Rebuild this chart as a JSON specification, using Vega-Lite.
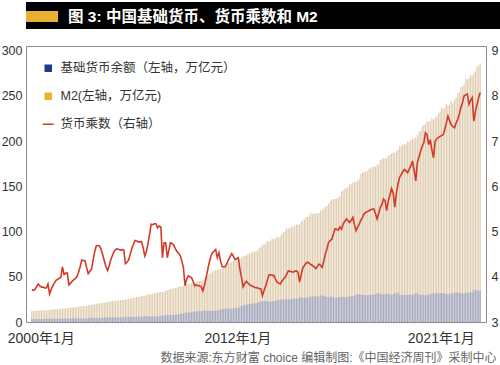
{
  "$schema": "https://vega.github.io/schema/vega-lite/v6.json",
  "padding": {"left": 0, "top": 2, "right": 0, "bottom": 0},
  "spacing": 15,
  "resolve": {"scale": {"color": "independent", "fill": "independent"}, "legend": {"color": "independent", "fill": "independent"}},
  "config": {
    "font": "Liberation Sans, Noto Sans CJK SC, sans-serif",
    "view": {"stroke": null},
    "axis": {"labelFont": "Liberation Sans, Noto Sans CJK SC, sans-serif", "labelColor": "#333333", "ticks": false, "domain": false, "grid": false},
    "legend": {
      "orient": "top-left", "offset": 16, "title": null, "padding": 0, "rowPadding": 15, "labelLimit": 400,
      "labelFont": "Liberation Sans, Noto Sans CJK SC, sans-serif", "labelFontSize": 12.5, "labelColor": "#333333", "labelOffset": 6,
      "symbolSize": 100
    }
  },
  "vconcat": [
    {
      "width": 500,
      "height": 27,
      "view": {"fill": "#000000", "stroke": null},
      "data": {"values": [{"t": "图 3: 中国基础货币、货币乘数和 M2"}]},
      "layer": [
        {"mark": {"type": "rect", "x": 0, "x2": 32, "y": 9, "y2": 20, "color": "#e9b131"}, "encoding": {}},
        {"mark": {"type": "text", "x": 42, "y": 14.5, "align": "left", "baseline": "middle", "fontSize": 15.5, "fontWeight": "bold", "color": "#ffffff", "font": "Liberation Sans, Noto Sans CJK SC, sans-serif"}, "encoding": {"text": {"field": "t"}}}
      ]
    },
    {
      "width": 460,
      "height": 276,
      "view": {"stroke": "#8c8c8c", "strokeWidth": 1},
      "data": {"values": [
{"d":"2000-01","m2":12.2,"b":3.3,"k":3.71},{"d":"2000-02","m2":12.1,"b":3.2,"k":3.70},{"d":"2000-03","m2":12.5,"b":3.3,"k":3.72},{"d":"2000-04","m2":12.6,"b":3.3,"k":3.78},{"d":"2000-05","m2":12.8,"b":3.3,"k":3.84},{"d":"2000-06","m2":12.6,"b":3.3,"k":3.80},{"d":"2000-07","m2":12.7,"b":3.4,"k":3.77},{"d":"2000-08","m2":12.9,"b":3.4,"k":3.77},{"d":"2000-09","m2":13.0,"b":3.5,"k":3.75},{"d":"2000-10","m2":13.0,"b":3.5,"k":3.75},{"d":"2000-11","m2":13.2,"b":3.5,"k":3.84},{"d":"2000-12","m2":13.5,"b":3.65,"k":3.62},
{"d":"2001-01","m2":13.8,"b":3.7,"k":3.72},{"d":"2001-02","m2":13.7,"b":3.6,"k":3.80},{"d":"2001-03","m2":14.1,"b":3.6,"k":3.86},{"d":"2001-04","m2":14.2,"b":3.6,"k":3.92},{"d":"2001-05","m2":14.3,"b":3.6,"k":3.94},{"d":"2001-06","m2":14.7,"b":3.7,"k":3.97},{"d":"2001-07","m2":14.7,"b":3.7,"k":3.98},{"d":"2001-08","m2":14.8,"b":3.5,"k":4.22},{"d":"2001-09","m2":15.0,"b":3.7,"k":4.05},{"d":"2001-10","m2":15.0,"b":3.7,"k":4.08},{"d":"2001-11","m2":15.2,"b":3.7,"k":4.08},{"d":"2001-12","m2":15.8,"b":4.0,"k":3.82},
{"d":"2002-01","m2":15.9,"b":4.1,"k":3.86},{"d":"2002-02","m2":16.0,"b":4.1,"k":3.90},{"d":"2002-03","m2":16.2,"b":4.1,"k":3.93},{"d":"2002-04","m2":16.4,"b":4.1,"k":3.96},{"d":"2002-05","m2":16.5,"b":4.1,"k":4.00},{"d":"2002-06","m2":16.9,"b":4.1,"k":4.10},{"d":"2002-07","m2":17.0,"b":4.0,"k":4.22},{"d":"2002-08","m2":17.3,"b":4.0,"k":4.37},{"d":"2002-09","m2":17.5,"b":4.0,"k":4.36},{"d":"2002-10","m2":17.5,"b":4.0,"k":4.35},{"d":"2002-11","m2":17.8,"b":4.2,"k":4.20},{"d":"2002-12","m2":18.5,"b":4.5,"k":4.07},
{"d":"2003-01","m2":19.0,"b":4.6,"k":4.12},{"d":"2003-02","m2":19.0,"b":4.6,"k":4.17},{"d":"2003-03","m2":19.4,"b":4.5,"k":4.35},{"d":"2003-04","m2":19.6,"b":4.3,"k":4.55},{"d":"2003-05","m2":19.9,"b":4.3,"k":4.68},{"d":"2003-06","m2":20.6,"b":4.4,"k":4.69},{"d":"2003-07","m2":20.6,"b":4.4,"k":4.68},{"d":"2003-08","m2":21.0,"b":4.6,"k":4.60},{"d":"2003-09","m2":21.3,"b":4.8,"k":4.48},{"d":"2003-10","m2":21.3,"b":4.9,"k":4.35},{"d":"2003-11","m2":21.6,"b":5.1,"k":4.22},{"d":"2003-12","m2":22.1,"b":5.3,"k":4.14},
{"d":"2004-01","m2":22.7,"b":5.3,"k":4.25},{"d":"2004-02","m2":22.6,"b":5.2,"k":4.38},{"d":"2004-03","m2":23.1,"b":5.2,"k":4.47},{"d":"2004-04","m2":23.3,"b":5.1,"k":4.56},{"d":"2004-05","m2":23.5,"b":5.1,"k":4.60},{"d":"2004-06","m2":23.8,"b":5.2,"k":4.62},{"d":"2004-07","m2":23.8,"b":5.2,"k":4.60},{"d":"2004-08","m2":24.0,"b":5.2,"k":4.59},{"d":"2004-09","m2":24.4,"b":5.3,"k":4.60},{"d":"2004-10","m2":24.3,"b":5.3,"k":4.59},{"d":"2004-11","m2":24.7,"b":5.8,"k":4.29},{"d":"2004-12","m2":25.3,"b":5.9,"k":4.32},
{"d":"2005-01","m2":25.8,"b":5.9,"k":4.37},{"d":"2005-02","m2":25.8,"b":5.7,"k":4.50},{"d":"2005-03","m2":26.4,"b":5.7,"k":4.62},{"d":"2005-04","m2":26.6,"b":5.6,"k":4.72},{"d":"2005-05","m2":26.9,"b":5.6,"k":4.80},{"d":"2005-06","m2":27.6,"b":5.8,"k":4.79},{"d":"2005-07","m2":27.7,"b":5.8,"k":4.77},{"d":"2005-08","m2":28.0,"b":5.9,"k":4.77},{"d":"2005-09","m2":28.7,"b":6.0,"k":4.78},{"d":"2005-10","m2":28.6,"b":6.1,"k":4.65},{"d":"2005-11","m2":29.0,"b":6.5,"k":4.46},{"d":"2005-12","m2":29.9,"b":6.4,"k":4.55},
{"d":"2006-01","m2":30.3,"b":6.4,"k":4.73},{"d":"2006-02","m2":30.4,"b":6.1,"k":4.95},{"d":"2006-03","m2":31.0,"b":6.0,"k":5.16},{"d":"2006-04","m2":31.3,"b":6.1,"k":5.15},{"d":"2006-05","m2":31.6,"b":6.1,"k":5.17},{"d":"2006-06","m2":32.3,"b":6.2,"k":5.17},{"d":"2006-07","m2":32.3,"b":6.4,"k":5.08},{"d":"2006-08","m2":32.6,"b":6.4,"k":5.12},{"d":"2006-09","m2":33.2,"b":6.5,"k":5.10},{"d":"2006-10","m2":33.0,"b":7.5,"k":4.42},{"d":"2006-11","m2":33.5,"b":7.1,"k":4.75},{"d":"2006-12","m2":34.6,"b":7.8,"k":4.75},
{"d":"2007-01","m2":35.2,"b":8.0,"k":4.42},{"d":"2007-02","m2":35.6,"b":7.7,"k":4.60},{"d":"2007-03","m2":36.4,"b":7.7,"k":4.75},{"d":"2007-04","m2":36.7,"b":7.8,"k":4.73},{"d":"2007-05","m2":36.9,"b":7.9,"k":4.70},{"d":"2007-06","m2":37.8,"b":8.2,"k":4.62},{"d":"2007-07","m2":38.0,"b":8.3,"k":4.56},{"d":"2007-08","m2":38.7,"b":8.6,"k":4.52},{"d":"2007-09","m2":39.3,"b":8.8,"k":4.47},{"d":"2007-10","m2":39.4,"b":9.1,"k":4.35},{"d":"2007-11","m2":40.0,"b":9.5,"k":4.20},{"d":"2007-12","m2":40.3,"b":10.2,"k":3.80},
{"d":"2008-01","m2":41.8,"b":10.6,"k":3.95},{"d":"2008-02","m2":42.1,"b":10.5,"k":4.02},{"d":"2008-03","m2":42.3,"b":10.6,"k":4.00},{"d":"2008-04","m2":42.9,"b":10.8,"k":3.98},{"d":"2008-05","m2":43.6,"b":11.2,"k":3.90},{"d":"2008-06","m2":44.3,"b":11.7,"k":3.80},{"d":"2008-07","m2":44.4,"b":11.6,"k":3.82},{"d":"2008-08","m2":44.7,"b":11.8,"k":3.80},{"d":"2008-09","m2":45.3,"b":11.9,"k":3.80},{"d":"2008-10","m2":45.3,"b":12.0,"k":3.78},{"d":"2008-11","m2":46.2,"b":12.5,"k":3.69},{"d":"2008-12","m2":47.5,"b":12.9,"k":3.80},
{"d":"2009-01","m2":49.6,"b":12.5,"k":3.98},{"d":"2009-02","m2":50.7,"b":12.2,"k":4.15},{"d":"2009-03","m2":53.1,"b":12.3,"k":4.31},{"d":"2009-04","m2":54.0,"b":12.1,"k":4.45},{"d":"2009-05","m2":54.9,"b":12.1,"k":4.53},{"d":"2009-06","m2":56.9,"b":12.5,"k":4.57},{"d":"2009-07","m2":57.3,"b":12.5,"k":4.60},{"d":"2009-08","m2":57.6,"b":13.0,"k":4.42},{"d":"2009-09","m2":58.6,"b":12.9,"k":4.53},{"d":"2009-10","m2":58.7,"b":13.5,"k":4.35},{"d":"2009-11","m2":59.4,"b":14.1,"k":4.22},{"d":"2009-12","m2":61.0,"b":14.4,"k":4.22},
{"d":"2010-01","m2":62.6,"b":14.8,"k":4.22},{"d":"2010-02","m2":63.6,"b":14.8,"k":4.30},{"d":"2010-03","m2":64.9,"b":14.8,"k":4.38},{"d":"2010-04","m2":65.6,"b":14.7,"k":4.45},{"d":"2010-05","m2":66.4,"b":14.7,"k":4.51},{"d":"2010-06","m2":67.4,"b":15.1,"k":4.45},{"d":"2010-07","m2":67.4,"b":15.4,"k":4.38},{"d":"2010-08","m2":68.8,"b":15.6,"k":4.40},{"d":"2010-09","m2":69.6,"b":15.7,"k":4.42},{"d":"2010-10","m2":69.9,"b":16.8,"k":4.17},{"d":"2010-11","m2":71.0,"b":17.8,"k":3.98},{"d":"2010-12","m2":72.6,"b":18.5,"k":3.78},
{"d":"2011-01","m2":73.3,"b":19.0,"k":3.85},{"d":"2011-02","m2":73.7,"b":18.9,"k":3.90},{"d":"2011-03","m2":75.8,"b":19.6,"k":3.86},{"d":"2011-04","m2":75.7,"b":19.8,"k":3.82},{"d":"2011-05","m2":76.3,"b":20.1,"k":3.80},{"d":"2011-06","m2":78.1,"b":20.6,"k":3.79},{"d":"2011-07","m2":77.3,"b":20.5,"k":3.77},{"d":"2011-08","m2":78.1,"b":20.8,"k":3.76},{"d":"2011-09","m2":78.7,"b":21.0,"k":3.75},{"d":"2011-10","m2":81.7,"b":22.0,"k":3.74},{"d":"2011-11","m2":82.7,"b":22.7,"k":3.73},{"d":"2011-12","m2":85.2,"b":22.5,"k":3.58},
{"d":"2012-01","m2":85.6,"b":23.3,"k":3.70},{"d":"2012-02","m2":86.7,"b":22.8,"k":3.80},{"d":"2012-03","m2":89.6,"b":23.0,"k":3.92},{"d":"2012-04","m2":88.9,"b":22.6,"k":4.04},{"d":"2012-05","m2":90.0,"b":22.2,"k":4.05},{"d":"2012-06","m2":92.5,"b":22.9,"k":4.03},{"d":"2012-07","m2":91.2,"b":22.6,"k":4.03},{"d":"2012-08","m2":92.5,"b":23.4,"k":3.95},{"d":"2012-09","m2":94.4,"b":24.3,"k":3.88},{"d":"2012-10","m2":93.6,"b":24.2,"k":3.86},{"d":"2012-11","m2":94.5,"b":24.6,"k":3.84},{"d":"2012-12","m2":97.4,"b":25.3,"k":3.90},
{"d":"2013-01","m2":99.2,"b":25.1,"k":3.95},{"d":"2013-02","m2":99.9,"b":25.0,"k":3.99},{"d":"2013-03","m2":103.6,"b":25.6,"k":4.05},{"d":"2013-04","m2":103.3,"b":25.0,"k":4.13},{"d":"2013-05","m2":104.2,"b":25.2,"k":4.12},{"d":"2013-06","m2":105.4,"b":25.6,"k":4.11},{"d":"2013-07","m2":105.3,"b":25.7,"k":4.10},{"d":"2013-08","m2":106.1,"b":25.7,"k":4.12},{"d":"2013-09","m2":107.7,"b":26.1,"k":4.13},{"d":"2013-10","m2":107.1,"b":26.1,"k":4.10},{"d":"2013-11","m2":107.9,"b":27.8,"k":3.88},{"d":"2013-12","m2":110.7,"b":27.1,"k":4.05},
{"d":"2014-01","m2":112.4,"b":26.8,"k":4.20},{"d":"2014-02","m2":113.1,"b":26.6,"k":4.25},{"d":"2014-03","m2":116.1,"b":27.0,"k":4.30},{"d":"2014-04","m2":116.0,"b":26.8,"k":4.32},{"d":"2014-05","m2":118.2,"b":27.5,"k":4.30},{"d":"2014-06","m2":120.7,"b":28.3,"k":4.27},{"d":"2014-07","m2":119.4,"b":28.1,"k":4.25},{"d":"2014-08","m2":119.7,"b":28.3,"k":4.22},{"d":"2014-09","m2":120.2,"b":28.7,"k":4.18},{"d":"2014-10","m2":119.9,"b":28.3,"k":4.23},{"d":"2014-11","m2":120.9,"b":28.2,"k":4.28},{"d":"2014-12","m2":122.8,"b":29.4,"k":4.25},
{"d":"2015-01","m2":124.3,"b":29.5,"k":4.21},{"d":"2015-02","m2":125.3,"b":28.8,"k":4.35},{"d":"2015-03","m2":127.5,"b":28.3,"k":4.50},{"d":"2015-04","m2":128.1,"b":27.7,"k":4.62},{"d":"2015-05","m2":130.3,"b":27.4,"k":4.76},{"d":"2015-06","m2":133.3,"b":27.8,"k":4.80},{"d":"2015-07","m2":135.3,"b":28.0,"k":4.83},{"d":"2015-08","m2":135.7,"b":27.4,"k":4.95},{"d":"2015-09","m2":135.9,"b":26.9,"k":5.06},{"d":"2015-10","m2":136.1,"b":26.9,"k":5.05},{"d":"2015-11","m2":137.4,"b":27.3,"k":5.03},{"d":"2015-12","m2":139.2,"b":27.6,"k":5.10},
{"d":"2016-01","m2":144.4,"b":28.0,"k":5.05},{"d":"2016-02","m2":145.4,"b":27.6,"k":5.17},{"d":"2016-03","m2":147.5,"b":27.7,"k":5.22},{"d":"2016-04","m2":147.4,"b":27.4,"k":5.28},{"d":"2016-05","m2":149.1,"b":27.9,"k":5.24},{"d":"2016-06","m2":152.1,"b":28.7,"k":5.20},{"d":"2016-07","m2":152.2,"b":28.4,"k":5.25},{"d":"2016-08","m2":154.1,"b":28.4,"k":5.31},{"d":"2016-09","m2":154.6,"b":29.4,"k":5.15},{"d":"2016-10","m2":154.9,"b":30.3,"k":5.02},{"d":"2016-11","m2":156.1,"b":30.0,"k":5.10},{"d":"2016-12","m2":158.1,"b":30.9,"k":5.17},
{"d":"2017-01","m2":163.9,"b":30.0,"k":5.25},{"d":"2017-02","m2":164.6,"b":29.8,"k":5.32},{"d":"2017-03","m2":166.4,"b":29.7,"k":5.39},{"d":"2017-04","m2":166.0,"b":29.5,"k":5.42},{"d":"2017-05","m2":166.5,"b":29.4,"k":5.44},{"d":"2017-06","m2":169.6,"b":29.9,"k":5.46},{"d":"2017-07","m2":169.4,"b":29.7,"k":5.48},{"d":"2017-08","m2":171.1,"b":30.0,"k":5.49},{"d":"2017-09","m2":172.2,"b":30.1,"k":5.50},{"d":"2017-10","m2":171.9,"b":30.6,"k":5.40},{"d":"2017-11","m2":173.7,"b":31.6,"k":5.28},{"d":"2017-12","m2":174.4,"b":32.2,"k":5.40},
{"d":"2018-01","m2":179.0,"b":31.1,"k":5.53},{"d":"2018-02","m2":179.8,"b":30.9,"k":5.60},{"d":"2018-03","m2":181.0,"b":30.4,"k":5.72},{"d":"2018-04","m2":180.8,"b":30.6,"k":5.68},{"d":"2018-05","m2":181.3,"b":31.9,"k":5.46},{"d":"2018-06","m2":184.1,"b":31.2,"k":5.68},{"d":"2018-07","m2":184.7,"b":30.6,"k":5.80},{"d":"2018-08","m2":186.1,"b":30.1,"k":5.95},{"d":"2018-09","m2":187.4,"b":30.8,"k":5.85},{"d":"2018-10","m2":186.8,"b":32.4,"k":5.54},{"d":"2018-11","m2":188.6,"b":31.0,"k":5.85},{"d":"2018-12","m2":190.0,"b":33.1,"k":6.05},
{"d":"2019-01","m2":194.1,"b":30.1,"k":6.20},{"d":"2019-02","m2":194.2,"b":29.8,"k":6.26},{"d":"2019-03","m2":196.5,"b":29.9,"k":6.32},{"d":"2019-04","m2":195.9,"b":29.6,"k":6.37},{"d":"2019-05","m2":196.6,"b":29.8,"k":6.34},{"d":"2019-06","m2":199.8,"b":30.5,"k":6.30},{"d":"2019-07","m2":199.6,"b":30.1,"k":6.38},{"d":"2019-08","m2":201.2,"b":30.0,"k":6.45},{"d":"2019-09","m2":203.0,"b":29.8,"k":6.56},{"d":"2019-10","m2":202.4,"b":30.6,"k":6.35},{"d":"2019-11","m2":203.9,"b":32.0,"k":6.12},{"d":"2019-12","m2":206.5,"b":32.4,"k":6.52},
{"d":"2020-01","m2":210.4,"b":30.4,"k":6.65},{"d":"2020-02","m2":211.2,"b":30.0,"k":6.78},{"d":"2020-03","m2":216.4,"b":30.2,"k":6.88},{"d":"2020-04","m2":217.8,"b":30.1,"k":6.96},{"d":"2020-05","m2":218.4,"b":29.2,"k":7.18},{"d":"2020-06","m2":222.0,"b":29.9,"k":7.14},{"d":"2020-07","m2":221.1,"b":30.7,"k":6.92},{"d":"2020-08","m2":222.2,"b":30.4,"k":7.03},{"d":"2020-09","m2":225.1,"b":31.8,"k":6.80},{"d":"2020-10","m2":223.6,"b":32.4,"k":6.63},{"d":"2020-11","m2":225.9,"b":31.0,"k":7.00},{"d":"2020-12","m2":227.4,"b":33.0,"k":7.05},
{"d":"2021-01","m2":230.2,"b":31.3,"k":7.08},{"d":"2021-02","m2":232.5,"b":31.5,"k":7.10},{"d":"2021-03","m2":236.8,"b":32.0,"k":7.12},{"d":"2021-04","m2":235.2,"b":31.7,"k":7.14},{"d":"2021-05","m2":236.7,"b":31.4,"k":7.25},{"d":"2021-06","m2":241.1,"b":31.3,"k":7.40},{"d":"2021-07","m2":239.4,"b":30.5,"k":7.55},{"d":"2021-08","m2":240.4,"b":31.0,"k":7.45},{"d":"2021-09","m2":243.7,"b":31.8,"k":7.36},{"d":"2021-10","m2":241.6,"b":31.7,"k":7.32},{"d":"2021-11","m2":245.0,"b":32.4,"k":7.29},{"d":"2021-12","m2":247.8,"b":33.0,"k":7.40},
{"d":"2022-01","m2":252.8,"b":32.5,"k":7.48},{"d":"2022-02","m2":253.9,"b":32.1,"k":7.60},{"d":"2022-03","m2":259.8,"b":32.3,"k":7.74},{"d":"2022-04","m2":259.9,"b":31.8,"k":7.85},{"d":"2022-05","m2":262.8,"b":31.6,"k":8.00},{"d":"2022-06","m2":268.4,"b":32.2,"k":8.02},{"d":"2022-07","m2":268.1,"b":32.1,"k":8.04},{"d":"2022-08","m2":269.9,"b":32.6,"k":7.81},{"d":"2022-09","m2":273.2,"b":33.1,"k":7.90},{"d":"2022-10","m2":271.8,"b":32.8,"k":7.96},{"d":"2022-11","m2":275.3,"b":35.6,"k":7.44},{"d":"2022-12","m2":277.1,"b":34.8,"k":7.65},
{"d":"2023-01","m2":282.0,"b":35.1,"k":7.81},{"d":"2023-02","m2":283.5,"b":34.6,"k":7.96},{"d":"2023-03","m2":286.0,"b":34.9,"k":8.07}
      ]},
      "layer": [
        {
          "layer": [
            {
              "mark": {"type": "bar", "width": 1.1},
              "encoding": {
                "x": {
                  "field": "d", "type": "temporal",
                  "scale": {"type": "utc", "domain": [{"year": 1999, "month": 12, "date": 17, "utc": true}, {"year": 2023, "month": 3, "date": 16, "utc": true}]},
                  "axis": {
                    "values": [{"year": 2000, "month": 6, "date": 18, "utc": true}, {"year": 2010, "month": 8, "date": 15, "utc": true}, {"year": 2021, "month": 2, "date": 15, "utc": true}],
                    "labelExpr": "utcyear(datum.value) < 2005 ? '2000年1月' : utcyear(datum.value) < 2015 ? '2012年1月' : '2021年1月'",
                    "labelFontSize": 14, "labelPadding": 9, "labelOverlap": false, "labelFlush": false,
                    "title": "数据来源:东方财富 choice  编辑制图:《中国经济周刊》采制中心",
                    "titleFont": "Liberation Sans, Noto Sans CJK SC, sans-serif",
                    "titleFontSize": 12, "titleColor": "#666666", "titleFontWeight": "normal",
                    "titleAlign": "right", "titleAnchor": "end", "titleX": 470, "titleY": 35, "titleBaseline": "middle"
                  }
                },
                "y": {
                  "field": "m2", "type": "quantitative",
                  "scale": {"domain": [0, 305], "nice": false},
                  "axis": {"values": [0, 50, 100, 150, 200, 250, 300], "labelFontSize": 12.5, "labelPadding": 4, "title": null, "labelFlush": false}
                },
                "fill": {
                  "datum": "M2(左轴，万亿元)",
                  "scale": {"domain": ["基础货币余额（左轴，万亿元）", "M2(左轴，万亿元)"], "range": ["#a3a9c9", "#dfcbad"]},
                  "legend": null
                }
              }
            },
            {
              "mark": {"type": "bar", "width": 1.1},
              "encoding": {
                "x": {"field": "d", "type": "temporal"},
                "y": {"field": "b", "type": "quantitative"},
                "fill": {"datum": "基础货币余额（左轴，万亿元）", "legend": null}
              }
            }
          ]
        },
        {
          "mark": {"type": "line", "strokeWidth": 1.6},
          "encoding": {
            "x": {"field": "d", "type": "temporal"},
            "y": {
              "field": "k", "type": "quantitative",
              "scale": {"domain": [3, 9.1], "nice": false, "zero": false},
              "axis": {"orient": "right", "values": [3, 4, 5, 6, 7, 8, 9], "labelFontSize": 12.5, "labelPadding": 5, "title": null, "labelFlush": false}
            },
            "color": {
              "datum": "货币乘数（右轴）",
              "scale": {"domain": ["基础货币余额（左轴，万亿元）", "M2(左轴，万亿元)", "货币乘数（右轴）"], "range": ["#1c3a8e", "#eeb32f", "#d43a2a"]},
              "legend": {
                "labelLimit": 400,
                "encode": {"symbols": {"update": {
                  "shape": {"signal": "datum.value === '货币乘数（右轴）' ? 'stroke' : 'square'"},
                  "fill": {"signal": "datum.value === '货币乘数（右轴）' ? 'transparent' : (datum.value === 'M2(左轴，万亿元)' ? '#eeb32f' : '#1c3a8e')"},
                  "strokeWidth": {"value": 1.5},
                  "size": {"signal": "datum.value === '货币乘数（右轴）' ? 121 : 36"},
                  "opacity": {"value": 1}
                }}}
              }
            }
          }
        }
      ],
      "resolve": {"scale": {"y": "independent"}}
    }
  ]
}
